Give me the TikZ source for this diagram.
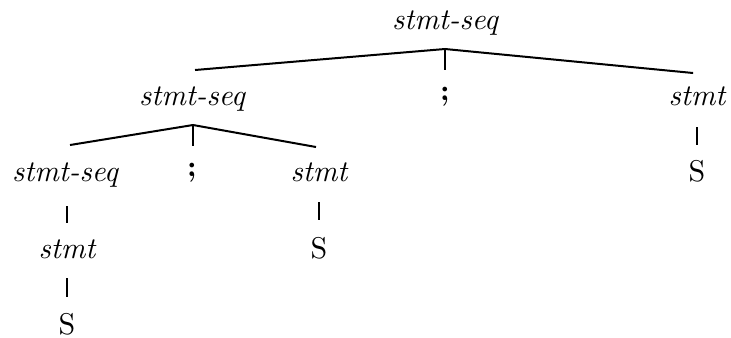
\documentclass[tikz,border=0pt]{standalone}
\begin{document}
\begin{tikzpicture}[x=0.3333pt,y=-0.3333pt,scale=1.5,
  lbl/.style={anchor=base,inner sep=0pt,transform shape,font=\fontsize{10}{12}\selectfont\itshape},
  rom/.style={anchor=base,inner sep=0pt,transform shape,font=\fontsize{10}{12}\selectfont},
  semi/.style={anchor=base,inner sep=0pt,transform shape,font=\fontsize{10}{12}\selectfont\bfseries},
  edge/.style={line width=1pt}]
\useasboundingbox (0,0) rectangle (731,338);
% nodes
\node[lbl] (top) at (445,30) {stmt-seq};
\node[lbl] (ss2) at (192,106) {stmt-seq};
\node[semi] (sc2) at (445,101) {;};
\node[lbl] (st2) at (697,106) {stmt};
\node[rom] (S2) at (697,182) {S};
\node[lbl] (ss3) at (65,182) {stmt-seq};
\node[semi] (sc3) at (192,177) {;};
\node[lbl] (st3) at (319,182) {stmt};
\node[rom] (S3) at (319,259) {S};
\node[lbl] (st4) at (67,259) {stmt};
\node[rom] (S5) at (67,335) {S};
% edge end points
\coordinate (a1) at (445,49);
\coordinate (a1l) at (195,70);
\coordinate (a1m) at (445,70);
\coordinate (a1r) at (693,73);
\coordinate (a2) at (193,125);
\coordinate (a2l) at (70,145);
\coordinate (a2m) at (193,146);
\coordinate (a2r) at (316,147);
\coordinate (b1t) at (697,127); \coordinate (b1b) at (697,145);
\coordinate (b2t) at (319,202); \coordinate (b2b) at (319,220);
\coordinate (b3t) at (67,206);  \coordinate (b3b) at (67,223);
\coordinate (b4t) at (67,278);  \coordinate (b4b) at (67,297);
% edges
\draw[edge] (a1l) -- (a1) -- (a1r);
\draw[edge] (a1) -- (a1m);
\draw[edge] (a2l) -- (a2) -- (a2r);
\draw[edge] (a2) -- (a2m);
\draw[edge] (b1t) -- (b1b);
\draw[edge] (b2t) -- (b2b);
\draw[edge] (b3t) -- (b3b);
\draw[edge] (b4t) -- (b4b);
\end{tikzpicture}
\end{document}
